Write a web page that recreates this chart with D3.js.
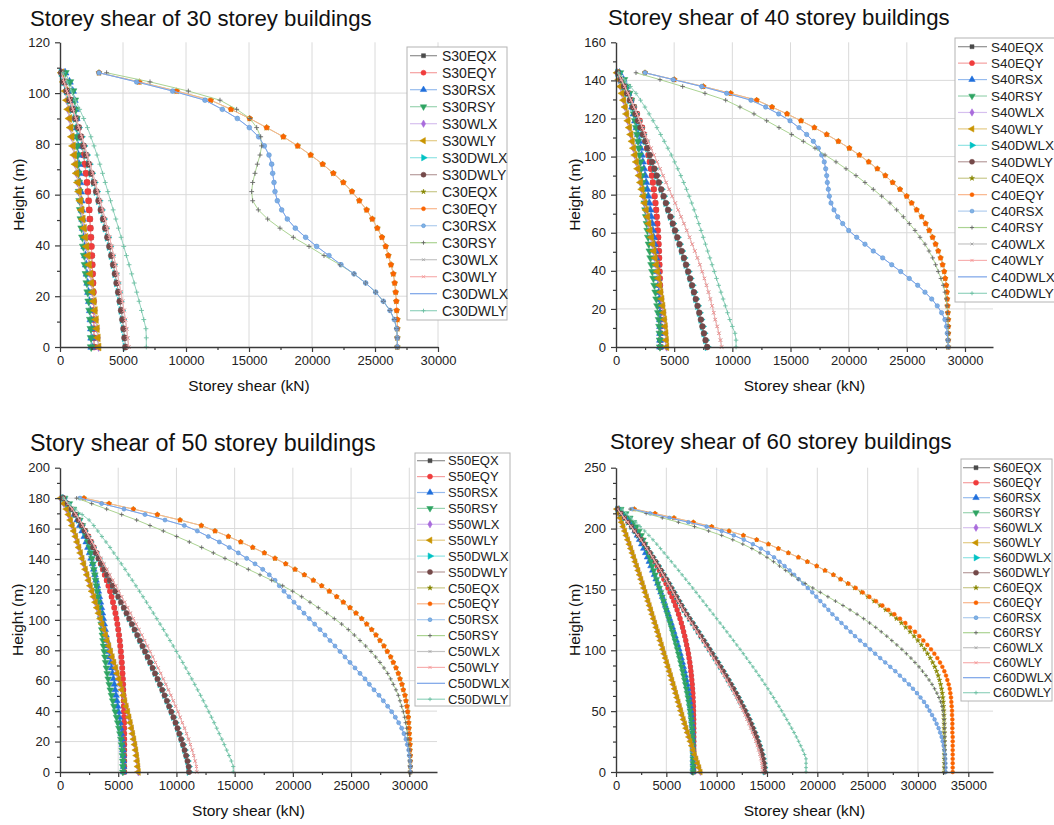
<!DOCTYPE html>
<html>
<head>
<meta charset="utf-8">
<script src="https://cdn.jsdelivr.net/npm/d3@7"></script>
<style>
body { margin: 0; background: #fff; }
svg { display: block; font-family: "Liberation Sans", Arial, sans-serif; }
</style>
</head>
<body>
<script>
// storey shear (kN), every list runs from the roof level down to the ground
var storeyHeight = 3.6;
var systems = ['S', 'C'];
var loadCases = ['EQX', 'EQY', 'RSX', 'RSY', 'WLX', 'WLY', 'DWLX', 'DWLY'];

// ---- 30 storeys (roof 108 m) ----
var S30EQY = [160,430,680,910,1120,1310,1480,1630,1760,1870,1970,2060,2140,2210,2270,2320,2370,2410,2450,2490,2525,2560,2590,2620,2645,2665,2680,2690,2695,2700,2700];
var S30RSX = [400,750,1000,1140,1230,1290,1340,1380,1420,1460,1500,1540,1590,1640,1690,1740,1800,1850,1900,1960,2020,2080,2140,2200,2260,2330,2400,2450,2490,2510,2520];
var S30RSY = [420,780,1030,1170,1250,1300,1330,1350,1370,1390,1420,1450,1480,1520,1560,1610,1660,1720,1780,1850,1920,1990,2060,2130,2200,2280,2350,2410,2450,2470,2480];
var S30WLY = [130,300,440,550,650,750,845,940,1035,1130,1225,1320,1420,1515,1615,1715,1815,1915,2015,2115,2215,2315,2410,2505,2600,2690,2775,2860,2940,3010,3070];
var S30DWLY = [110,310,530,760,990,1220,1440,1660,1870,2080,2290,2490,2690,2880,3070,3250,3430,3600,3770,3930,4080,4230,4370,4500,4630,4750,4860,4960,5050,5130,5200];
var C30EQY = [3095,6296,9259,11960,13571,15053,16402,17725,18862,19894,20847,21693,22487,23175,23757,24339,24788,25185,25555,25847,26058,26270,26455,26561,26640,26693,26720,26772,26772,26772,26772];
var C30RSX = [3095,6085,8942,11508,12884,14074,15026,15767,16217,16587,16799,16878,16984,17063,17249,17593,18042,18677,19497,20370,21349,22302,23333,24259,25053,25661,26190,26534,26720,26772,26772];
var C30RSY = [3700,7143,10185,12698,14021,15079,15608,15926,16005,15873,15661,15476,15291,15212,15291,15740,16481,17460,18518,19762,20952,22222,23333,24259,25053,25661,26190,26534,26720,26772,26772];
var C30WLY = [110,320,550,790,1030,1270,1500,1730,1950,2170,2390,2600,2800,3000,3200,3390,3580,3760,3930,4100,4260,4410,4560,4700,4830,4960,5080,5190,5290,5370,5450];
var C30DWLY = [240,560,900,1230,1560,1880,2180,2450,2700,2940,3160,3380,3590,3800,4010,4220,4430,4640,4850,5060,5270,5480,5690,5890,6090,6280,6470,6650,6820,6850,6850];
// curves hidden under the ones drawn after them
var S30EQX = S30EQY, S30WLX = S30WLY, S30DWLX = S30DWLY;
var C30EQX = C30EQY, C30WLX = C30WLY, C30DWLX = C30RSX;

// ---- 40 storeys (roof 144 m) ----
var S40EQY = [200,530,820,1080,1320,1560,1800,2030,2240,2400,2540,2670,2790,2900,3000,3090,3170,3250,3320,3390,3450,3500,3550,3590,3630,3660,3690,3710,3730,3750,3765,3780,3790,3795,3800,3805,3810,3810,3810,3810,3810];
var S40RSX = [300,640,870,1060,1230,1380,1520,1650,1770,1890,2000,2110,2210,2310,2410,2510,2600,2690,2780,2870,2950,3030,3110,3180,3250,3320,3390,3450,3510,3560,3610,3650,3690,3720,3750,3770,3790,3800,3800,3800,3800];
var S40RSY = [350,700,960,1150,1300,1430,1540,1640,1730,1810,1890,1960,2030,2100,2160,2220,2280,2340,2400,2460,2520,2580,2640,2700,2760,2820,2890,2960,3040,3120,3210,3300,3390,3470,3550,3620,3680,3720,3750,3770,3780];
var S40WLY = [100,250,390,530,660,790,910,1030,1150,1270,1390,1510,1630,1750,1870,1990,2110,2230,2350,2470,2590,2710,2820,2930,3040,3150,3260,3360,3460,3560,3660,3760,3850,3940,4020,4100,4170,4230,4280,4320,4350];
var S40DWLY = [150,420,690,950,1200,1440,1670,1890,2100,2310,2520,2720,2910,3100,3300,3500,3690,3890,4090,4290,4480,4680,4880,5070,5270,5460,5650,5840,6020,6200,6370,6540,6700,6860,7010,7160,7300,7430,7560,7700,7840];
var C40EQY = [2493,5014,7507,9857,12092,13410,14699,15903,17049,18110,19113,20058,20918,21721,22466,23153,23783,24413,24986,25415,25845,26275,26619,26929,27215,27473,27702,27903,28075,28218,28304,28390,28447,28476,28505,28533,28562,28562,28562,28562,28562];
var C40RSX = [2493,4928,7364,9513,11605,12866,13983,14957,15730,16390,16964,17394,17681,17904,18024,18110,18167,18253,18339,18482,18740,19055,19486,20001,20690,21403,22117,22925,23699,24473,25213,25935,26562,27138,27617,27990,28275,28419,28476,28533,28562];
var C40RSY = [1719,3782,5730,7650,9428,10659,11862,12951,14011,15101,16104,17107,17967,18912,19772,20632,21403,22117,22839,23553,24127,24700,25213,25703,26133,26562,26906,27223,27478,27702,27932,28132,28275,28390,28450,28500,28530,28550,28560,28560,28560];
var C40WLY = [150,450,750,1030,1300,1560,1800,2030,2270,2510,2760,3010,3270,3530,3790,4050,4310,4570,4830,5090,5340,5590,5840,6080,6320,6550,6780,7000,7210,7410,7600,7780,7950,8110,8260,8400,8530,8700,8850,8980,9080];
var C40DWLY = [200,720,1240,1720,2110,2490,2850,3190,3520,3840,4150,4460,4760,5040,5310,5570,5820,6060,6290,6510,6720,6920,7120,7310,7500,7690,7880,8070,8260,8450,8640,8830,9020,9210,9400,9590,9780,10000,10230,10320,10320];
var S40EQX = S40EQY, S40WLX = S40WLY, S40DWLX = S40DWLY;
var C40EQX = C40EQY, C40WLX = C40WLY, C40DWLX = C40RSX;

// ---- 50 storeys (roof 180 m) ----
var S50EQY = [250,600,950,1280,1600,1900,2180,2440,2680,2900,3110,3310,3500,3680,3850,4010,4160,4300,4430,4550,4660,4760,4850,4930,5000,5070,5130,5180,5230,5270,5310,5340,5370,5400,5420,5440,5460,5470,5480,5490,5500,5505,5510,5515,5520,5520,5520,5520,5520,5520,5520];
var S50RSX = [250,600,950,1230,1480,1700,1900,2080,2250,2400,2540,2670,2790,2900,3000,3100,3200,3290,3380,3470,3560,3640,3720,3800,3880,3950,4030,4110,4190,4270,4350,4430,4510,4590,4670,4740,4810,4880,4950,5020,5090,5150,5210,5270,5320,5360,5400,5430,5450,5460,5460];
var S50RSY = [400,800,1150,1450,1700,1920,2100,2260,2400,2530,2640,2740,2830,2910,2990,3060,3130,3200,3260,3320,3380,3440,3490,3540,3590,3640,3690,3740,3800,3860,3920,3990,4060,4140,4230,4320,4420,4530,4640,4750,4860,4960,5060,5150,5230,5290,5340,5370,5390,5400,5400];
var S50WLY = [60,330,560,740,900,1050,1195,1340,1480,1620,1760,1900,2040,2180,2320,2460,2600,2745,2890,3035,3180,3325,3470,3615,3760,3905,4050,4195,4340,4485,4630,4770,4910,5045,5180,5310,5440,5565,5690,5810,5925,6035,6140,6240,6335,6425,6505,6575,6635,6685,6730];
var S50DWLY = [300,650,1000,1300,1580,1850,2100,2350,2600,2840,3080,3320,3560,3800,4040,4280,4520,4760,5000,5240,5480,5710,5940,6170,6400,6630,6860,7080,7300,7520,7740,7950,8160,8370,8580,8780,8980,9180,9370,9560,9740,9920,10090,10250,10410,10560,10700,10830,10950,11050,11080];
var C50EQY = [2061,4209,6298,8360,10307,12136,13313,14458,15517,16547,17549,18466,19383,20184,20985,21758,22474,23130,23760,24333,24908,25422,25911,26341,26770,27140,27484,27827,28113,28399,28628,28859,29058,29202,29374,29488,29631,29717,29803,29860,29918,29946,29975,30004,30032,30061,30061,30090,30090,30090,30090];
var C50RSX = [1718,3578,5497,7300,9018,10678,11794,12739,13684,14543,15316,16037,16749,17410,17977,18466,18835,19239,19668,20098,20527,20956,21414,21872,22331,22760,23190,23619,24049,24478,24908,25337,25767,26196,26568,26969,27398,27770,28142,28486,28801,29087,29345,29545,29717,29832,29946,30004,30061,30090,30090];
var C50RSY = [1431,2720,4009,5297,6585,7730,8875,10020,11108,12168,13170,14172,15174,16176,17178,18180,19124,19983,20756,21472,22187,22903,23562,24192,24764,25280,25767,26253,26711,27112,27484,27827,28142,28399,28628,28859,29058,29202,29345,29488,29603,29689,29775,29832,29889,29946,30004,30032,30061,30090,30090];
var C50WLY = [320,690,1060,1380,1680,1960,2230,2490,2760,3010,3260,3520,3770,4030,4280,4540,4790,5050,5300,5550,5810,6050,6300,6540,6780,7030,7270,7500,7740,7970,8200,8430,8650,8870,9090,9310,9520,9730,9930,10140,10320,10510,10700,10870,11040,11200,11350,11480,11610,11720,11750];
var C50DWLY = [300,800,1300,1900,2500,2900,3250,3600,3950,4300,4620,4950,5270,5590,5900,6210,6520,6830,7130,7430,7730,8020,8310,8600,8890,9170,9450,9730,10000,10270,10540,10800,11060,11320,11570,11820,12070,12310,12550,12780,13010,13240,13460,13680,13900,14110,14320,14520,14720,14880,14880];
var S50EQX = S50EQY, S50WLX = S50WLY, S50DWLX = S50DWLY;
var C50EQX = C50EQY, C50WLX = C50WLY, C50DWLX = C50RSX;

// ---- 60 storeys (roof 216 m) ----
var S60EQY = [200,600,1000,1350,1650,1950,2250,2540,2820,3090,3350,3600,3850,4090,4320,4540,4760,4970,5170,5370,5560,5740,5910,6070,6220,6360,6490,6610,6720,6830,6930,7020,7110,7190,7260,7330,7390,7440,7490,7530,7570,7600,7630,7650,7670,7690,7700,7710,7720,7720,7725,7730,7730,7730,7730,7730,7730,7730,7730,7730,7730];
var S60RSX = [300,700,1050,1350,1620,1870,2100,2320,2530,2730,2920,3100,3280,3450,3620,3790,3960,4120,4280,4440,4600,4750,4900,5050,5200,5340,5480,5620,5760,5890,6020,6150,6270,6390,6500,6610,6710,6810,6900,6990,7070,7150,7220,7280,7340,7390,7440,7480,7520,7550,7580,7600,7620,7630,7640,7650,7650,7650,7650,7650,7650];
var S60RSY = [500,1000,1400,1750,2050,2300,2520,2710,2880,3040,3190,3330,3470,3610,3750,3890,4030,4170,4310,4450,4590,4720,4850,4980,5110,5240,5370,5500,5620,5740,5860,5980,6090,6200,6310,6420,6520,6620,6720,6810,6900,6990,7070,7150,7220,7290,7350,7410,7460,7510,7550,7580,7610,7630,7640,7650,7650,7650,7650,7650,7650];
var S60WLY = [80,240,400,560,715,870,1020,1170,1320,1470,1620,1765,1910,2055,2200,2345,2485,2625,2765,2905,3045,3185,3320,3455,3590,3725,3860,3995,4130,4260,4390,4520,4650,4780,4910,5040,5170,5300,5430,5560,5690,5815,5940,6065,6190,6315,6440,6565,6700,6830,6960,7100,7240,7380,7520,7660,7800,7960,8110,8250,8380];
var S60DWLY = [150,500,850,1200,1540,1870,2190,2500,2800,3100,3390,3670,3950,4220,4480,4740,5000,5250,5500,5750,6000,6250,6500,6750,7020,7300,7600,7880,8160,8440,8720,9000,9280,9560,9840,10110,10380,10650,10910,11170,11420,11670,11910,12150,12380,12600,12820,13030,13230,13420,13600,13780,13950,14110,14260,14400,14520,14620,14700,14760,14780];
var C60EQX = [1821,3875,5762,7683,9505,11226,12650,13975,15134,16128,17121,18115,19009,19936,20764,21592,22280,23020,23720,24390,25030,25650,26240,26800,27340,27860,28350,28790,29220,29620,29990,30340,30660,30950,31220,31460,31670,31850,32010,32140,32250,32340,32410,32470,32510,32540,32560,32580,32590,32600,32600,32610,32610,32610,32620,32620,32620,32620,32620,32620,32620];
var C60EQY = [1821,3875,5762,7683,9505,11226,12650,13975,15134,16128,17121,18115,19009,19936,20764,21592,22321,23082,23811,24506,25169,25830,26460,27056,27652,28215,28745,29208,29705,30135,30533,30930,31295,31626,31924,32189,32421,32620,32786,32918,33051,33150,33217,33283,33316,33349,33382,33382,33415,33415,33415,33415,33448,33448,33448,33448,33448,33448,33448,33448,33448];
var C60RSX = [1600,3400,5300,7200,9000,10500,11700,12700,13600,14400,15100,15700,16250,16750,17250,17700,18150,18600,19050,19500,19900,20300,20700,21100,21500,21950,22400,22850,23300,23750,24250,24750,25250,25750,26250,26750,27250,27750,28200,28650,29100,29500,29900,30250,30600,30900,31150,31400,31650,31850,32050,32200,32350,32450,32550,32620,32680,32710,32730,32740,32750];
var C60RSY = [1400,3000,4600,6200,7800,9200,10500,11600,12600,13500,14300,15000,15650,16250,16850,17450,18100,18800,19550,20300,21050,21800,22550,23250,23950,24600,25200,25800,26350,26900,27400,27900,28400,28850,29300,29700,30100,30450,30800,31100,31400,31650,31880,32080,32250,32380,32480,32550,32600,32630,32650,32660,32670,32670,32670,32670,32670,32670,32670,32670,32670];
var C60WLY = [140,480,820,1160,1500,1830,2150,2460,2760,3050,3340,3620,3890,4160,4420,4680,4930,5180,5430,5680,5920,6170,6420,6670,6930,7200,7490,7770,8040,8310,8590,8860,9130,9400,9680,9940,10210,10470,10730,10990,11230,11480,11710,11950,12170,12390,12600,12810,13000,13190,13370,13540,13710,13870,14020,14160,14280,14390,14470,14530,14560];
var C60DWLY = [600,1050,1500,1950,2400,2850,3270,3670,4050,4420,4780,5140,5500,5860,6220,6570,6920,7270,7620,7960,8300,8640,8980,9320,9660,10000,10340,10680,11010,11340,11670,12000,12330,12650,12970,13290,13600,13910,14210,14510,14800,15090,15370,15650,15920,16190,16450,16710,16960,17210,17450,17690,17920,18140,18350,18550,18730,18880,18880,18880,18880];
var S60EQX = S60EQY, S60WLX = S60WLY, S60DWLX = S60DWLY;
var C60WLX = C60WLY, C60DWLX = C60RSX;

// axis tick values
var xTicks30 = [0,5000,10000,15000,20000,25000,30000];
var xTicks35 = [0,5000,10000,15000,20000,25000,30000,35000];
var yTicks120 = [0,20,40,60,80,100,120];
var yTicks160 = [0,20,40,60,80,100,120,140,160];
var yTicks200 = [0,20,40,60,80,100,120,140,160,180,200];
var yTicks250 = [0,50,100,150,200,250];

var panels = [
  { storeys: 30, title: 'Storey shear of 30 storey buildings', xTitle: 'Storey shear (kN)',
    series: [S30EQX,S30EQY,S30RSX,S30RSY,S30WLX,S30WLY,S30DWLX,S30DWLY,C30EQX,C30EQY,C30RSX,C30RSY,C30WLX,C30WLY,C30DWLX,C30DWLY],
    xTicks: xTicks30, yTicks: yTicks120, xMax: 30000, yMax: 120, yMinorStep: 10,
    left: 60, top: 42.3, w: 378, h: 304.7, ms: 30,
    tx: 30, ty: 26, tfs: 22.2, yTitleX: 23.5, xTitleY: 391,
    leg: { x: 407, y: 47, w: 100, h: 273, y0: 55.7, dy: 17, l1: 410, l2: 437, mx: 423.5, tx: 442, fs: 14 } },
  { storeys: 40, title: 'Storey shear of 40 storey buildings', xTitle: 'Storey shear (kN)',
    series: [S40EQX,S40EQY,S40RSX,S40RSY,S40WLX,S40WLY,S40DWLX,S40DWLY,C40EQX,C40EQY,C40RSX,C40RSY,C40WLX,C40WLY,C40DWLX,C40DWLY],
    xTicks: xTicks30, yTicks: yTicks160, xMax: 32408, yMax: 160, yMinorStep: 10,
    left: 616, top: 42.3, w: 377, h: 304.7, ms: 26,
    tx: 608, ty: 25, tfs: 22.2, yTitleX: 579.5, xTitleY: 391,
    leg: { x: 955, y: 38, w: 130, h: 264, y0: 46.7, dy: 16.44, l1: 958, l2: 987, mx: 972, tx: 991, fs: 13.5 } },
  { storeys: 50, title: 'Story shear of 50 storey buildings', xTitle: 'Story shear (kN)',
    series: [S50EQX,S50EQY,S50RSX,S50RSY,S50WLX,S50WLY,S50DWLX,S50DWLY,C50EQX,C50EQY,C50RSX,C50RSY,C50WLX,C50WLY,C50DWLX,C50DWLY],
    xTicks: xTicks30, yTicks: yTicks200, xMax: 32380, yMax: 200, yMinorStep: 10,
    left: 60, top: 467.7, w: 377, h: 304.3, ms: 22,
    tx: 30, ty: 451, tfs: 23.3, yTitleX: 22.5, xTitleY: 816,
    leg: { x: 415, y: 453, w: 95, h: 253, y0: 460.7, dy: 15.9, l1: 417, l2: 445, mx: 430, tx: 448, fs: 13 } },
  { storeys: 60, title: 'Storey shear of 60 storey buildings', xTitle: 'Storey shear (kN)',
    series: [S60EQX,S60EQY,S60RSX,S60RSY,S60WLX,S60WLY,S60DWLX,S60DWLY,C60EQX,C60EQY,C60RSX,C60RSY,C60WLX,C60WLY,C60DWLX,C60DWLY],
    xTicks: xTicks35, yTicks: yTicks250, xMax: 37453, yMax: 250, yMinorStep: 12.5,
    left: 616, top: 467.7, w: 377, h: 304.3, ms: 18,
    tx: 610, ty: 449, tfs: 22.2, yTitleX: 579.5, xTitleY: 816,
    leg: { x: 961, y: 459, w: 91, h: 242, y0: 467.7, dy: 15, l1: 963, l2: 990, mx: 976, tx: 993, fs: 12.5 } }
];

// marker / line look for the 16 series, in legend order (k = relative marker area)
var looks = [
  { type: d3.symbolSquare, rot: 0, k: 0.8, fill: '#4a4a4a', line: '#8f8f8f' },
  { type: d3.symbolCircle, rot: 0, k: 1, fill: '#f03c3c', line: '#f5a0a0' },
  { type: d3.symbolTriangle, rot: 0, k: 0.9, fill: '#1f6fdc', line: '#96bbee' },
  { type: d3.symbolTriangle, rot: 180, k: 0.9, fill: '#2fa463', line: '#9bd4b2' },
  { type: d3.symbolDiamond, rot: 0, k: 0.8, fill: '#a96bdc', line: '#d6c0ef' },
  { type: d3.symbolTriangle, rot: -90, k: 0.9, fill: '#c99400', line: '#e4cb86' },
  { type: d3.symbolTriangle, rot: 90, k: 0.9, fill: '#00c2c4', line: '#92e4e4' },
  { type: d3.symbolCircle, rot: 0, k: 1, fill: '#744949', line: '#b89d9d' },
  { type: d3.symbolStar, rot: 0, k: 0.4, fill: '#868600', line: '#c9c98c' },
  { type: d3.symbolCircle, rot: 0, k: 0.65, fill: '#fa6400', line: '#f9b68c' },
  { type: d3.symbolCircle, rot: 0, k: 0.6, fill: '#80b3e5', stroke: '#4a86cf', line: '#b0cdee' },
  { type: d3.symbolPlus, rot: 0, k: 0.3, open: '#666', line: '#abd392' },
  { type: d3.symbolTimes, rot: 0, k: 0.3, open: '#a3a3a3', line: '#c4c4c4' },
  { type: d3.symbolTimes, rot: 0, k: 0.35, open: '#f59494', line: '#f7b0b0' },
  { type: null, line: '#7aa3e8' },
  { type: d3.symbolPlus, rot: 0, k: 0.3, open: '#6cbfa3', line: '#94d3be' }
];

var svg = d3.select('body').append('svg').attr('width', 1054).attr('height', 825);

function drawMarker(g, lk, size, px, py) {
  if (!lk.type) return;
  var m = g.append('path')
    .attr('d', d3.symbol().type(lk.type).size(size * lk.k)())
    .attr('transform', 'translate(' + px + ',' + py + ') rotate(' + lk.rot + ')');
  if (lk.open) {
    m.attr('fill', 'none').attr('stroke', lk.open).attr('stroke-width', 0.9);
  } else {
    m.attr('fill', lk.fill).attr('stroke', lk.stroke || lk.fill).attr('stroke-width', 0.5);
  }
}

panels.forEach(function (p) {
  var g = svg.append('g');
  var x = d3.scaleLinear().domain([0, p.xMax]).range([p.left, p.left + p.w]);
  var y = d3.scaleLinear().domain([0, p.yMax]).range([p.top + p.h, p.top]);
  var roof = p.storeys * storeyHeight;

  // grid
  g.append('g').selectAll('line').data(p.xTicks.slice(1)).join('line')
    .attr('x1', function (d) { return x(d); }).attr('x2', function (d) { return x(d); })
    .attr('y1', y(0)).attr('y2', y(p.yMax))
    .attr('stroke', '#dadada').attr('stroke-width', 1);
  g.append('g').selectAll('line').data(p.yTicks.slice(1, -1)).join('line')
    .attr('x1', x(0)).attr('x2', x(p.xMax))
    .attr('y1', function (d) { return y(d); }).attr('y2', function (d) { return y(d); })
    .attr('stroke', '#dadada').attr('stroke-width', 1);

  // curves
  p.series.forEach(function (vals, k) {
    var lk = looks[k];
    var pts = vals.map(function (v, i) { return [v, roof - i * storeyHeight]; });
    g.append('path').datum(pts)
      .attr('d', d3.line().x(function (d) { return x(d[0]); }).y(function (d) { return y(d[1]); }))
      .attr('fill', 'none').attr('stroke', lk.line).attr('stroke-width', 1);
    pts.forEach(function (d) { drawMarker(g, lk, p.ms, x(d[0]), y(d[1])); });
  });

  // axes
  var xMinor = d3.range(0, p.xMax, 2500).filter(function (v) { return v % 5000 !== 0; });
  var yMinor = d3.range(0, p.yMax, p.yMinorStep).filter(function (v) { return p.yTicks.indexOf(v) < 0; });
  g.append('g').attr('transform', 'translate(0,' + y(0) + ')')
    .call(d3.axisBottom(x).tickValues(p.xTicks).tickFormat(d3.format('d')).tickSize(5).tickSizeOuter(0).tickPadding(4));
  g.append('g').attr('transform', 'translate(0,' + y(0) + ')')
    .call(d3.axisBottom(x).tickValues(xMinor).tickFormat('').tickSize(3).tickSizeOuter(0))
    .select('.domain').remove();
  g.append('g').attr('transform', 'translate(' + x(0) + ',0)')
    .call(d3.axisLeft(y).tickValues(p.yTicks).tickSize(5).tickSizeOuter(0).tickPadding(5));
  g.append('g').attr('transform', 'translate(' + x(0) + ',0)')
    .call(d3.axisLeft(y).tickValues(yMinor).tickFormat('').tickSize(3).tickSizeOuter(0))
    .select('.domain').remove();
  g.selectAll('.domain').attr('stroke', '#3a3a3a').attr('stroke-width', 1.4);
  g.selectAll('.tick line').attr('stroke', '#3a3a3a').attr('stroke-width', 1.2);
  g.selectAll('.tick text').attr('font-size', 13).attr('fill', '#222')
    .attr('font-family', '"Liberation Sans", Arial, sans-serif');

  // titles
  g.append('text').attr('x', p.tx).attr('y', p.ty).attr('font-size', p.tfs).attr('fill', '#111').text(p.title);
  g.append('text').attr('x', p.left + p.w / 2).attr('y', p.xTitleY).attr('text-anchor', 'middle')
    .attr('font-size', 15.5).attr('fill', '#111').text(p.xTitle);
  g.append('text').attr('transform', 'translate(' + p.yTitleX + ',' + (p.top + p.h / 2) + ') rotate(-90)')
    .attr('text-anchor', 'middle').attr('font-size', 15.5).attr('fill', '#111').text('Height (m)');

  // legend
  var L = p.leg;
  var lg = g.append('g');
  lg.append('rect').attr('x', L.x).attr('y', L.y).attr('width', L.w).attr('height', L.h)
    .attr('fill', '#fff').attr('stroke', '#b4b4b4').attr('stroke-width', 1);
  p.series.forEach(function (vals, k) {
    var lk = looks[k];
    var cy = L.y0 + k * L.dy;
    var name = systems[Math.floor(k / 8)] + p.storeys + loadCases[k % 8];
    lg.append('line').attr('x1', L.l1).attr('x2', L.l2).attr('y1', cy).attr('y2', cy)
      .attr('stroke', lk.line).attr('stroke-width', 1.2);
    drawMarker(lg, lk, 20, L.mx, cy);
    lg.append('text').attr('x', L.tx).attr('y', cy).attr('dy', '0.36em')
      .attr('font-size', L.fs).attr('fill', '#222').text(name);
  });
});
</script>
</body>
</html>
